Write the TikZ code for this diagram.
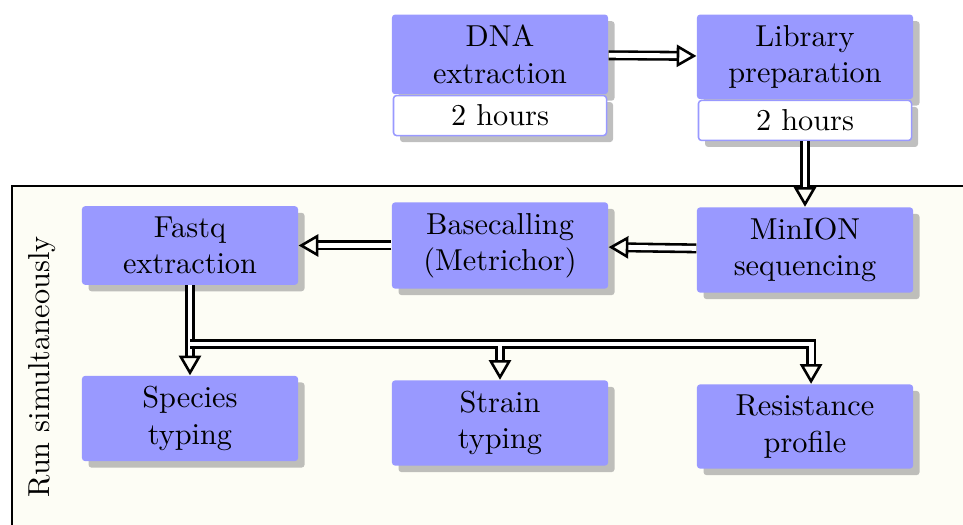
\documentclass[tikz,border=0pt]{standalone}
\usetikzlibrary{shadows,arrows.meta}
\definecolor{bgc}{RGB}{253,253,245}
\tikzset{
  blubox/.style={fill=blue!40, rounded corners=1pt, text width=64.3pt, inner sep=3.5pt, align=center, drop shadow},
  timebox/.style={fill=white, draw=blue!40, line width=0.5pt, rounded corners=1pt, text width=64.3pt, minimum height=13.2pt, inner sep=3pt, align=center, drop shadow},
  dbl/.style={draw=black, line width=0.85pt, double=white, double distance=1.6pt, -{Triangle[open,length=6.5pt,width=7.3pt]}},
}
\begin{document}
\begin{tikzpicture}[x=0.33pt, y=-0.33pt]
\useasboundingbox (0,0) rectangle (963,525);
\clip (0,0) rectangle (963,525);
\draw[fill=bgc, line width=0.5pt] (12,186) rectangle (980,540);
\node[rotate=90] (run) at (42,367) {Run simultaneously};

\node[blubox, anchor=north] (dna) at (500,14) {DNA\\extraction};
\node[timebox, anchor=north] (dnat) at (dna.south) {2 hours};
\node[blubox, anchor=north] (lib) at (805,14) {Library\\preparation};
\node[timebox, anchor=north] (libt) at (lib.south) {2 hours};

\node[blubox] (minion) at (805,250) {MinION\\sequencing};
\node[blubox] (base) at (500,245.5) {Basecalling\\(Metrichor)};
\node[blubox] (fastq) at (190,245.5) {Fastq\\extraction};

\node[blubox] (species) at (190,418.5) {Species\\typing};
\node[blubox] (strain) at (500,423) {Strain\\typing};
\node[blubox] (resist) at (805,426.5) {Resistance\\profile};

\coordinate (split) at (fastq.south |- 0,344);
\coordinate (sjoin) at ([yshift=-0.8pt]strain.north |- split);

\draw[dbl] (dna) -- (lib);
\draw[dbl] (libt) -- (minion);
\draw[dbl] (minion) -- (base);
\draw[dbl] (base) -- (fastq);
\draw[dbl] (fastq) -- (species);
\draw[dbl] (split) -| ([xshift=2pt]resist.north);
\draw[dbl] (sjoin) -- (strain.north);
\end{tikzpicture}
\end{document}
